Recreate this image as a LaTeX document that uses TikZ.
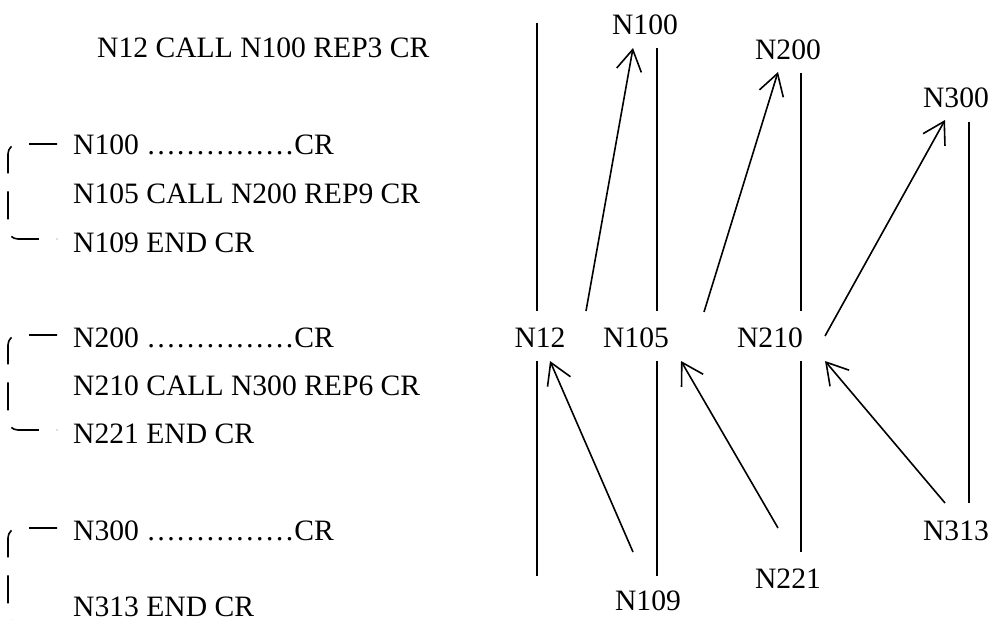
\documentclass[tikz,border=0pt]{standalone}
\usepackage{fontspec}
\setmainfont{Liberation Serif}
\usetikzlibrary{arrows.meta}
\begin{document}
\begin{tikzpicture}[x=1pt,y=-1pt,
  txt/.style={inner sep=0pt,anchor=base west,font=\fontsize{29.6}{35}\selectfont},
  lbl/.style={inner sep=0pt,anchor=base,font=\fontsize{29.6}{35}\selectfont},
  vline/.style={line width=1.6pt},
  callarrow/.style={line width=1.6pt,-{Straight Barb[length=21pt,width=25pt,line width=1.6pt]}},
  brk/.style={line width=1.6pt,dash pattern=on 28pt off 18pt,rounded corners=10pt}]
\useasboundingbox (0,0) rectangle (992,620);
\clip (0,0) rectangle (992,620);
% left program listing
\node[txt] (t12)  at (97,57.5) {N12 CALL N100 REP3 CR};
\node[txt] (t100) at (73,155) {N100 ……………CR};
\node[txt] (t105) at (73,203.5) {N105 CALL N200 REP9 CR};
\node[txt] (t109) at (73,252) {N109 END CR};
\node[txt] (t200) at (73,347) {N200 ……………CR};
\node[txt] (t210) at (73,395) {N210 CALL N300 REP6 CR};
\node[txt] (t221) at (73,443) {N221 END CR};
\node[txt] (t300) at (73,540) {N300 ……………CR};
\node[txt] (t313) at (73,616) {N313 END CR};
% brackets
\draw[brk] (57,144) -- (8,144) -- (8,239) -- (57,239);
\draw[brk] (57,335) -- (8,335) -- (8,430) -- (57,430);
\draw[brk] (57,528) -- (8,528) -- (8,623) -- (57,623);
% right diagram labels
\node[lbl] (n100) at (645,35) {N100};
\node[lbl] (n200) at (788,60) {N200};
\node[lbl] (n300) at (956,108) {N300};
\node[lbl] (n12)  at (540,347) {N12};
\node[lbl] (n105) at (636,347) {N105};
\node[lbl] (n210) at (770,347) {N210};
\node[lbl] (n109) at (648,610) {N109};
\node[lbl] (n221) at (788,588) {N221};
\node[lbl] (n313) at (956,540) {N313};
% vertical program lines
\coordinate (l1a) at (537,23);  \coordinate (l1b) at (537,311);
\coordinate (l1c) at (537,361); \coordinate (l1d) at (537,576);
\coordinate (l2a) at (657,48);  \coordinate (l2b) at (657,311);
\coordinate (l2c) at (657,361); \coordinate (l2d) at (657,576);
\coordinate (l3a) at (801,73);  \coordinate (l3b) at (801,311);
\coordinate (l3c) at (801,361); \coordinate (l3d) at (801,552);
\coordinate (l4a) at (969,122); \coordinate (l4b) at (969,503);
\draw[vline] (l1a) -- (l1b);
\draw[vline] (l1c) -- (l1d);
\draw[vline] (l2a) -- (l2b);
\draw[vline] (l2c) -- (l2d);
\draw[vline] (l3a) -- (l3b);
\draw[vline] (l3c) -- (l3d);
\draw[vline] (l4a) -- (l4b);
% call and return arrows
\coordinate (a1s) at (586,311); \coordinate (a1e) at (633,48);
\coordinate (a2s) at (704,312); \coordinate (a2e) at (778,72);
\coordinate (a3s) at (825,336); \coordinate (a3e) at (945,120);
\coordinate (a4s) at (633,552); \coordinate (a4e) at (550,361);
\coordinate (a5s) at (778,528); \coordinate (a5e) at (681,361);
\coordinate (a6s) at (945,503); \coordinate (a6e) at (825,361);
\draw[callarrow] (a1s) -- (a1e);
\draw[callarrow] (a2s) -- (a2e);
\draw[callarrow] (a3s) -- (a3e);
\draw[callarrow] (a4s) -- (a4e);
\draw[callarrow] (a5s) -- (a5e);
\draw[callarrow] (a6s) -- (a6e);
\end{tikzpicture}
\end{document}
